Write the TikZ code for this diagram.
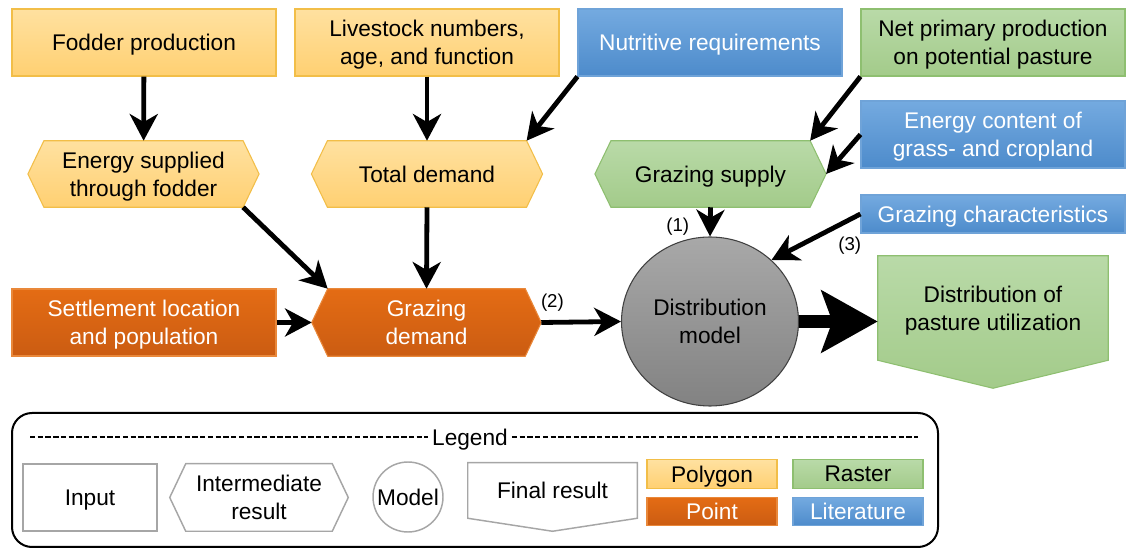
\documentclass[tikz,border=0pt]{standalone}
\usepackage{fontspec}
\setmainfont{Liberation Sans}
\usetikzlibrary{backgrounds}
\usetikzlibrary{shapes.geometric}
\usetikzlibrary{arrows.meta}
\definecolor{polytop}{HTML}{FFE1A0}
\definecolor{polybot}{HTML}{FFD072}
\definecolor{polyline}{HTML}{F2BE48}
\definecolor{pointtop}{HTML}{E46C14}
\definecolor{pointbot}{HTML}{CB5C12}
\definecolor{pointline}{HTML}{E9883A}
\definecolor{rastop}{HTML}{B9DAA8}
\definecolor{rasbot}{HTML}{A3CB8A}
\definecolor{rasline}{HTML}{8EBF70}
\definecolor{littop}{HTML}{74AAE0}
\definecolor{litbot}{HTML}{4D8BCB}
\definecolor{litline}{HTML}{6FA3D8}
\definecolor{legline}{HTML}{A6A6A6}
% outline of an intermediate result (hexagon) and of a result (pentagon)
\newcommand{\hexout}[2]{\path[#2] (#1.west) -- ([xshift=12pt]#1.north west)
    -- ([xshift=-12pt]#1.north east) -- (#1.east) -- ([xshift=-12pt]#1.south east)
    -- ([xshift=12pt]#1.south west) -- cycle;}
\newcommand{\pentout}[3]{\path[#2] (#1.north west) -- (#1.north east)
    -- (#1.south east) -- ([yshift=-#3]#1.south) -- (#1.south west) -- cycle;}
\tikzset{
    every node/.style={
        font=\fontsize{17}{21}\selectfont,
        align=center,
        text depth=0pt,
        inner sep=0pt},
    inbox/.style={
        rectangle,
        minimum width=198pt,
        minimum height=50.25pt,
        line width=0.8pt},
    interbox/.style={
        rectangle,
        minimum width=173pt,
        minimum height=49.5pt},
    polyfill/.style={top color=polytop, bottom color=polybot, draw=polyline},
    pointfill/.style={top color=pointtop, bottom color=pointbot, draw=pointline, text=white},
    rasterfill/.style={top color=rastop, bottom color=rasbot, draw=rasline},
    litfill/.style={top color=littop, bottom color=litbot, draw=litline, text=white},
    legitem/.style={draw=legline, fill=white, line width=1.1pt},
    numlabel/.style={font=\fontsize{14}{16}\selectfont},
    bigflow/.style={
        -{Stealth[length=42pt,width=46pt,inset=8pt]},
        line width=10pt},
    every edge/.style={
        draw,
        -{Stealth[length=20pt,width=21pt,inset=6pt]},
        line width=3.6pt}}

\begin{document}
\begin{tikzpicture}[x=0.75pt, y=-0.75pt]
        \useasboundingbox (0,0) rectangle (1129,548);

        % inputs
        \node[inbox,polyfill] (fod) at (144,42.5) {Fodder production};
        \node[inbox,polyfill] (live) at (427,42.5) {Livestock numbers,\\age, and function};
        \node[inbox,litfill] (nut) at (710,42.5) {Nutritive requirements};
        \node[inbox,rasterfill] (npp) at (993,42.5) {Net primary production\\on potential pasture};
        \node[inbox,litfill] (encon) at (993,134.5) {Energy content of\\grass- and cropland};
        \node[inbox,litfill,minimum height=28.5pt] (grch) at (993,214) {Grazing characteristics};
        \node[inbox,pointfill] (settle) at (144,322.5) {Settlement location\\and population};

        % intermediate results
        \node[interbox] (esf) at (143.5,174) {Energy supplied\\through fodder};
        \node[interbox] (totd) at (427,174) {Total demand};
        \node[interbox] (grsup) at (710.5,174) {Grazing supply};
        \node[interbox,text=white,minimum width=171.75pt,minimum height=50.25pt] (grdem) at (426.5,322.5) {Grazing\\demand};

        % model and result
        \node[ellipse,top color=gray!68,bottom color=gray!98,draw=black!75,line width=0.8pt,
              minimum width=132.75pt,minimum height=126.75pt] (mod) at (710,321.5) {Distribution\\model};
        \node[rectangle,minimum width=172.5pt,minimum height=78pt] (dist) at (993,308) {Distribution of\\pasture utilization};

        \begin{scope}[on background layer]
            \hexout{esf}{polyfill,line width=0.8pt}
            \hexout{totd}{polyfill,line width=0.8pt}
            \hexout{grsup}{rasterfill,line width=0.8pt}
            \hexout{grdem}{pointfill,line width=0.8pt}
            \pentout{dist}{rasterfill,line width=0.8pt}{21pt}
        \end{scope}

        \draw (fod) edge (esf);
        \draw (live) edge (totd);
        \draw (nut.south west) edge ([xshift=-12pt]totd.north east);
        \draw (npp.south west) edge ([xshift=-12pt]grsup.north east);
        \draw (encon.west) edge (grsup.east);
        \draw (grsup.south) edge node[numlabel,pos=0.6,left=14pt] {(1)} (mod.north);
        \draw (grch.west) edge node[numlabel,pos=0.12,below=11pt] {(3)} (mod.45);
        \draw ([xshift=-12pt]esf.south east) edge ([xshift=12pt]grdem.north west);
        \draw (totd.south) edge (grdem.north);
        \draw (settle.east) edge (grdem.west);
        \draw (grdem.east) edge node[numlabel,pos=0.14,above=9pt] {(2)} (mod.west);
        \draw (mod.east) edge[bigflow] (mod.east -| dist.west);

        % legend
        \draw[line width=1.5pt,rounded corners=15pt] (12,413) rectangle (938,547);
        \node (legtitle) at (470,437) {\,Legend\,};
        \coordinate (dl) at (30,437);
        \coordinate (dr) at (918,437);
        \draw[line width=1.3pt,dash pattern=on 4pt off 1.8pt] (dl) -- (legtitle.west);
        \draw[line width=1.3pt,dash pattern=on 4pt off 1.8pt] (legtitle.east) -- (dr);
        \node[inbox,legitem,minimum width=100.5pt] (lin) at (90,497.5) {Input};
        \node[interbox,minimum width=133.5pt,minimum height=50.25pt] (lint) at (259,497.5) {Intermediate\\result};
        \node[circle,legitem,minimum size=52.5pt] (lmod) at (408,497) {Model};
        \node[rectangle,minimum width=126.75pt,minimum height=41.25pt] (lfin) at (552.5,490.5) {Final result};
        \begin{scope}[on background layer]
            \hexout{lint}{legitem}
            \pentout{lfin}{legitem}{9.75pt}
        \end{scope}
        \node[inbox,polyfill,minimum width=97.5pt,minimum height=21.4pt] (lpoly) at (712,474) {Polygon};
        \node[inbox,pointfill,minimum width=97.5pt,minimum height=21.4pt] (lpoint) at (712,511.5) {Point};
        \node[inbox,rasterfill,minimum width=97.5pt,minimum height=21.4pt] (lras) at (858,474) {Raster};
        \node[inbox,litfill,minimum width=97.5pt,minimum height=21.4pt] (llit) at (858,511.5) {Literature};
    \end{tikzpicture}
\end{document}
